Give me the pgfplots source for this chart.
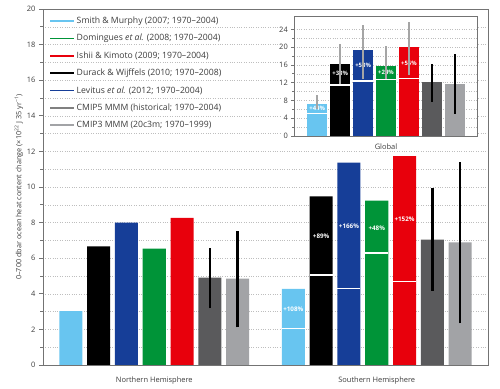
\documentclass[border=0pt]{standalone}
\usepackage{pgfplots}
\pgfplotsset{compat=1.18}
\usepackage{fontspec}
\setmainfont{Open Sans}
\definecolor{cLB}{RGB}{104,197,240}
\definecolor{cBL}{RGB}{22,62,152}
\definecolor{cGR}{RGB}{0,148,56}
\definecolor{cRD}{RGB}{232,0,12}
\definecolor{cDG}{RGB}{90,90,92}
\definecolor{cLG}{RGB}{162,163,166}
\definecolor{cEB}{RGB}{165,165,165}
\definecolor{cAx}{RGB}{115,115,115}
\definecolor{cTx}{RGB}{60,60,60}
\definecolor{cGrid}{RGB}{190,190,190}
\pgfplotsset{
  mybar/.style={ybar, bar shift=0pt, draw=none, forget plot},
}
\tikzset{
  pct/.style={white, font=\bfseries\fontsize{6.3}{6}\selectfont, inner sep=0pt},
  pcts/.style={white, font=\bfseries\fontsize{6}{6}\selectfont, inner sep=0pt},
}
\begin{document}
\begin{tikzpicture}
\useasboundingbox (0,0) rectangle (500bp,389bp);
\begin{axis}[
  at={(43bp,24bp)}, anchor=south west,
  scale only axis, width=445bp, height=356bp,
  xmin=0, xmax=16, ymin=0, ymax=20,
  xtick={4,12}, xticklabels={Northern Hemisphere, Southern Hemisphere},
  major x tick style={draw=none},
  xticklabel style={yshift=-4bp},
  ytick={0,2,...,20}, minor y tick num=1,
  ytick pos=left, tick align=outside,
  major tick length=4bp, minor tick length=2.5bp,
  tick style={cAx, line width=0.6bp},
  ymajorgrids, yminorgrids,
  grid style={cGrid, dotted, line width=0.5bp},
  axis line style={cAx, line width=0.9bp},
  /pgf/number format/assume math mode=true,
  tick label style={font=\fontsize{7.5}{8}\selectfont, text=cTx},
  ylabel={0–700 dbar ocean heat content change (×10\textsuperscript{22} J 35 yr\textsuperscript{−1})},
  ylabel style={font=\fontsize{7.3}{8}\selectfont, text=cTx, yshift=-3bp},
  bar width=0.83,
  legend style={at={(0.008,0.988)}, anchor=north west, draw=none, fill=none,
    font=\fontsize{8.7}{9}\selectfont, text=cTx, row sep=6.3bp,
    nodes={inner sep=1.5bp}},
  legend cell align=left,
  legend image code/.code={\draw[#1, line width=1.5bp] (0bp,0bp) -- (24bp,0bp);},
]
% bars
\addplot[mybar, fill=cLB] coordinates {(1,3.03) (9,4.27)};
\addplot[mybar, fill=black] coordinates {(2,6.67) (10,9.48)};
\addplot[mybar, fill=cBL] coordinates {(3,8.00) (11,11.37)};
\addplot[mybar, fill=cGR] coordinates {(4,6.54) (12,9.23)};
\addplot[mybar, fill=cRD] coordinates {(5,8.26) (13,11.74)};
\addplot[mybar, fill=cDG] coordinates {(6,4.91) (14,7.04)};
\addplot[mybar, fill=cLG] coordinates {(7,4.85) (15,6.89)};
% split lines
\addplot[white, line width=1.5bp, forget plot] coordinates {(8.585,2.05) (9.415,2.05)};
\addplot[white, line width=1.5bp, forget plot] coordinates {(9.585,5.05) (10.415,5.05)};
\addplot[white, line width=1.5bp, forget plot] coordinates {(10.585,4.30) (11.415,4.30)};
\addplot[white, line width=1.5bp, forget plot] coordinates {(11.585,6.30) (12.415,6.30)};
\addplot[white, line width=1.5bp, forget plot] coordinates {(12.585,4.70) (13.415,4.70)};
% error bars
\addplot[black, line width=2.6bp, forget plot] coordinates {(6,3.18) (6,6.60)};
\addplot[black, line width=2.6bp, forget plot] coordinates {(7,2.12) (7,7.50)};
\addplot[black, line width=2.6bp, forget plot] coordinates {(14,4.16) (14,9.93)};
\addplot[black, line width=2.6bp, forget plot] coordinates {(15,2.34) (15,11.39)};
% percentage labels
\node[pct] at (axis cs:9,3.13) {+108\%};
\node[pct] at (axis cs:10,7.25) {+89\%};
\node[pct] at (axis cs:11,7.77) {+166\%};
\node[pct] at (axis cs:12,7.66) {+48\%};
\node[pct] at (axis cs:13,8.16) {+152\%};
% legend
\addlegendimage{cLB}
\addlegendentry{Smith \& Murphy (2007; 1970–2004)}
\addlegendimage{cGR}
\addlegendentry{Domingues \textit{et al.} (2008; 1970–2004)}
\addlegendimage{cRD}
\addlegendentry{Ishii \& Kimoto (2009; 1970–2004)}
\addlegendimage{black}
\addlegendentry{Durack \& Wijffels (2010; 1970–2008)}
\addlegendimage{cBL}
\addlegendentry{Levitus \textit{et al.} (2012; 1970–2004)}
\addlegendimage{gray}
\addlegendentry{CMIP5 MMM (historical; 1970–2004)}
\addlegendimage{cLG}
\addlegendentry{CMIP3 MMM (20c3m; 1970–1999)}
\end{axis}
\fill[white] (282bp,248bp) rectangle (478bp,379bp);
\begin{axis}[
  at={(294.3bp,253bp)}, anchor=south west,
  scale only axis, width=183.4bp, height=120bp,
  xmin=0, xmax=8, ymin=0, ymax=27,
  xtick={4}, xticklabels={Global},
  major x tick style={draw=none},
  xticklabel style={yshift=-1bp},
  ytick={0,4,...,24}, minor y tick num=1,
  ytick pos=left, tick align=outside,
  major tick length=3bp, minor tick length=2bp,
  tick style={cAx, line width=0.6bp},
  ymajorgrids, yminorgrids,
  grid style={cGrid, dotted, line width=0.5bp},
  axis line style={cAx, line width=0.9bp},
  axis background/.style={fill=white},
  /pgf/number format/assume math mode=true,
  tick label style={font=\fontsize{7.5}{8}\selectfont, text=cTx},
  bar width=0.85,
]
\addplot[mybar, fill=cLB] coordinates {(1,7.27)};
\addplot[mybar, fill=black] coordinates {(2,16.1)};
\addplot[mybar, fill=cBL] coordinates {(3,19.34)};
\addplot[mybar, fill=cGR] coordinates {(4,15.8)};
\addplot[mybar, fill=cRD] coordinates {(5,19.95)};
\addplot[mybar, fill=cDG] coordinates {(6,12.07)};
\addplot[mybar, fill=cLG] coordinates {(7,11.7)};
\addplot[white, line width=1.3bp, forget plot] coordinates {(0.575,5.05) (1.425,5.05)};
\addplot[white, line width=1.3bp, forget plot] coordinates {(1.575,11.47) (2.425,11.47)};
\addplot[white, line width=1.3bp, forget plot] coordinates {(2.575,12.4) (3.425,12.4)};
\addplot[white, line width=1.3bp, forget plot] coordinates {(3.575,12.65) (4.425,12.65)};
\addplot[white, line width=1.3bp, forget plot] coordinates {(4.575,12.95) (5.425,12.95)};
\node[pcts] at (axis cs:1,6.3) {+44\%};
\node[pcts] at (axis cs:2,14.0) {+38\%};
\node[pcts] at (axis cs:3,15.8) {+58\%};
\node[pcts] at (axis cs:4,14.3) {+24\%};
\node[pcts] at (axis cs:5,16.4) {+55\%};
\addplot[cEB, line width=2bp, forget plot] coordinates {(1,6.0) (1,9.2)};
\addplot[cEB, line width=2bp, forget plot] coordinates {(2,11.8) (2,20.8)};
\addplot[cEB, line width=2bp, forget plot] coordinates {(3,12.8) (3,25.0)};
\addplot[cEB, line width=2bp, forget plot] coordinates {(4,12.9) (4,20.2)};
\addplot[cEB, line width=2bp, forget plot] coordinates {(5,13.8) (5,25.6)};
\addplot[black, line width=2bp, forget plot] coordinates {(6,7.65) (6,16.2)};
\addplot[black, line width=2bp, forget plot] coordinates {(7,5.0) (7,18.4)};
\end{axis}
\end{tikzpicture}
\end{document}
